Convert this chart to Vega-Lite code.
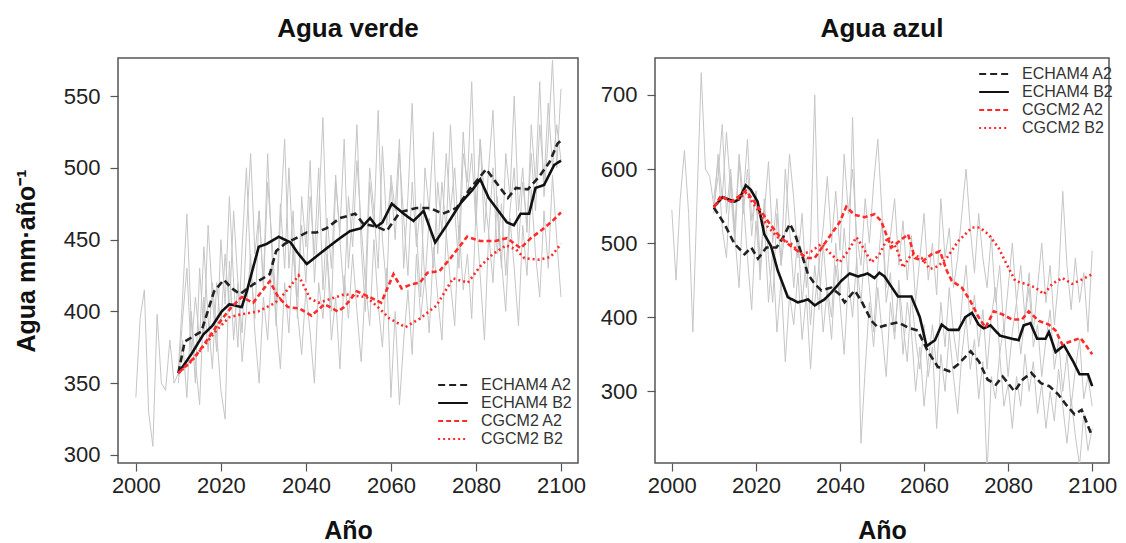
{
"$schema": "https://vega.github.io/schema/vega-lite/v6.json",
"padding": {"left": 13, "top": 15, "right": 5, "bottom": 0},
"config": {
  "font": "Liberation Sans",
  "view": {"stroke": "#555555", "strokeWidth": 1.5},
  "axis": {"grid": false, "domain": false, "tickColor": "#555555", "tickSize": 8, "tickWidth": 1.2, "labelFontSize": 22, "labelColor": "#222222", "titleFontSize": 25, "titleFontWeight": "bold", "titleColor": "#111111"},
  "axisX": {"labelPadding": 4, "titlePadding": 22},
  "axisY": {"labelPadding": 10, "titlePadding": 24},
  "title": {"fontSize": 26, "fontWeight": "bold", "color": "#111111", "offset": 16},
  "legend": {"labelFontSize": 16, "labelColor": "#333333", "symbolType": "M-1.65,0H1.65", "symbolSize": 324, "symbolStrokeWidth": 2, "rowPadding": 0, "labelOffset": 18, "title": null}
},
"datasets": {
  "vh": [{"x":2000,"v":340},{"x":2001,"v":395},{"x":2002,"v":415},{"x":2003,"v":330},{"x":2004,"v":306},{"x":2005,"v":398},{"x":2006,"v":350},{"x":2007,"v":345},{"x":2008,"v":380},{"x":2009,"v":350},{"x":2010,"v":357}],
  "ah": [{"x":2000,"v":545},{"x":2001,"v":450},{"x":2002,"v":560},{"x":2003,"v":625},{"x":2004,"v":540},{"x":2005,"v":380},{"x":2006,"v":560},{"x":2007,"v":730},{"x":2008,"v":600},{"x":2009,"v":590},{"x":2010,"v":550}],
  "vg": [
{"x":2010,"g1":360,"g2":355,"g3":350},{"x":2011,"g1":410,"g2":395,"g3":380},{"x":2012,"g1":468,"g2":430,"g3":340},{"x":2013,"g1":395,"g2":372,"g3":400},{"x":2014,"g1":350,"g2":410,"g3":365},{"x":2015,"g1":430,"g2":380,"g3":335},{"x":2016,"g1":385,"g2":445,"g3":410},{"x":2017,"g1":460,"g2":395,"g3":372},{"x":2018,"g1":410,"g2":360,"g3":420},{"x":2019,"g1":372,"g2":420,"g3":385},
{"x":2020,"g1":450,"g2":390,"g3":345},{"x":2021,"g1":405,"g2":440,"g3":325},{"x":2022,"g1":480,"g2":400,"g3":435},{"x":2023,"g1":420,"g2":470,"g3":380},{"x":2024,"g1":375,"g2":420,"g3":420},{"x":2025,"g1":445,"g2":385,"g3":365},{"x":2026,"g1":500,"g2":455,"g3":400},{"x":2027,"g1":430,"g2":510,"g3":440},{"x":2028,"g1":395,"g2":440,"g3":385},{"x":2029,"g1":470,"g2":470,"g3":350},
{"x":2030,"g1":420,"g2":415,"g3":410},{"x":2031,"g1":510,"g2":490,"g3":380},{"x":2032,"g1":440,"g2":450,"g3":435},{"x":2033,"g1":390,"g2":405,"g3":395},{"x":2034,"g1":465,"g2":475,"g3":360},{"x":2035,"g1":520,"g2":430,"g3":420},{"x":2036,"g1":430,"g2":500,"g3":385},{"x":2037,"g1":470,"g2":440,"g3":445},{"x":2038,"g1":395,"g2":410,"g3":400},{"x":2039,"g1":480,"g2":460,"g3":370},
{"x":2040,"g1":445,"g2":420,"g3":415},{"x":2041,"g1":505,"g2":480,"g3":385},{"x":2042,"g1":420,"g2":440,"g3":350},{"x":2043,"g1":470,"g2":500,"g3":420},{"x":2044,"g1":535,"g2":415,"g3":395},{"x":2045,"g1":440,"g2":465,"g3":440},{"x":2046,"g1":400,"g2":430,"g3":380},{"x":2047,"g1":490,"g2":495,"g3":410},{"x":2048,"g1":455,"g2":450,"g3":360},{"x":2049,"g1":520,"g2":410,"g3":425},
{"x":2050,"g1":430,"g2":480,"g3":395},{"x":2051,"g1":470,"g2":445,"g3":440},{"x":2052,"g1":530,"g2":505,"g3":400},{"x":2053,"g1":445,"g2":460,"g3":365},{"x":2054,"g1":400,"g2":420,"g3":420},{"x":2055,"g1":490,"g2":500,"g3":390},{"x":2056,"g1":460,"g2":470,"g3":450},{"x":2057,"g1":540,"g2":430,"g3":405},{"x":2058,"g1":450,"g2":515,"g3":375},{"x":2059,"g1":415,"g2":460,"g3":430},
{"x":2060,"g1":495,"g2":490,"g3":340},{"x":2061,"g1":470,"g2":450,"g3":400},{"x":2062,"g1":520,"g2":510,"g3":335},{"x":2063,"g1":430,"g2":465,"g3":380},{"x":2064,"g1":480,"g2":425,"g3":415},{"x":2065,"g1":545,"g2":490,"g3":370},{"x":2066,"g1":455,"g2":445,"g3":440},{"x":2067,"g1":410,"g2":475,"g3":395},{"x":2068,"g1":500,"g2":420,"g3":425},{"x":2069,"g1":470,"g2":465,"g3":385},
{"x":2070,"g1":525,"g2":430,"g3":445},{"x":2071,"g1":440,"g2":490,"g3":410},{"x":2072,"g1":490,"g2":455,"g3":380},{"x":2073,"g1":455,"g2":510,"g3":455},{"x":2074,"g1":530,"g2":470,"g3":420},{"x":2075,"g1":470,"g2":500,"g3":390},{"x":2076,"g1":430,"g2":450,"g3":460},{"x":2077,"g1":510,"g2":525,"g3":415},{"x":2078,"g1":490,"g2":480,"g3":440},{"x":2079,"g1":560,"g2":510,"g3":395},
{"x":2080,"g1":470,"g2":460,"g3":470},{"x":2081,"g1":520,"g2":520,"g3":425},{"x":2082,"g1":455,"g2":480,"g3":380},{"x":2083,"g1":500,"g2":455,"g3":455},{"x":2084,"g1":540,"g2":500,"g3":420},{"x":2085,"g1":470,"g2":440,"g3":480},{"x":2086,"g1":430,"g2":475,"g3":435},{"x":2087,"g1":510,"g2":425,"g3":400},{"x":2088,"g1":480,"g2":470,"g3":465},{"x":2089,"g1":550,"g2":500,"g3":430},
{"x":2090,"g1":470,"g2":445,"g3":390},{"x":2091,"g1":500,"g2":490,"g3":460},{"x":2092,"g1":455,"g2":460,"g3":425},{"x":2093,"g1":530,"g2":510,"g3":485},{"x":2094,"g1":490,"g2":470,"g3":440},{"x":2095,"g1":560,"g2":530,"g3":410},{"x":2096,"g1":480,"g2":490,"g3":470},{"x":2097,"g1":520,"g2":545,"g3":430},{"x":2098,"g1":575,"g2":500,"g3":495},{"x":2099,"g1":500,"g2":530,"g3":450},{"x":2100,"g1":555,"g2":505,"g3":410}
  ],
  "ag": [
{"x":2010,"g1":560,"g2":550,"g3":540},{"x":2011,"g1":610,"g2":590,"g3":620},{"x":2012,"g1":520,"g2":660,"g3":560},{"x":2013,"g1":480,"g2":540,"g3":650},{"x":2014,"g1":590,"g2":600,"g3":570},{"x":2015,"g1":510,"g2":520,"g3":500},{"x":2016,"g1":440,"g2":620,"g3":610},{"x":2017,"g1":560,"g2":560,"g3":540},{"x":2018,"g1":480,"g2":640,"g3":600},{"x":2019,"g1":410,"g2":530,"g3":510},
{"x":2020,"g1":530,"g2":570,"g3":570},{"x":2021,"g1":460,"g2":480,"g3":450},{"x":2022,"g1":560,"g2":530,"g3":540},{"x":2023,"g1":480,"g2":420,"g3":610},{"x":2024,"g1":420,"g2":490,"g3":500},{"x":2025,"g1":540,"g2":380,"g3":560},{"x":2026,"g1":470,"g2":450,"g3":470},{"x":2027,"g1":600,"g2":340,"g3":520},{"x":2028,"g1":520,"g2":430,"g3":620},{"x":2029,"g1":440,"g2":390,"g3":560},
{"x":2030,"g1":510,"g2":460,"g3":480},{"x":2031,"g1":420,"g2":370,"g3":540},{"x":2032,"g1":480,"g2":430,"g3":440},{"x":2033,"g1":390,"g2":330,"g3":500},{"x":2034,"g1":470,"g2":420,"g3":700},{"x":2035,"g1":410,"g2":470,"g3":470},{"x":2036,"g1":500,"g2":380,"g3":520},{"x":2037,"g1":430,"g2":440,"g3":590},{"x":2038,"g1":370,"g2":400,"g3":500},{"x":2039,"g1":470,"g2":500,"g3":570},
{"x":2040,"g1":420,"g2":430,"g3":490},{"x":2041,"g1":350,"g2":520,"g3":620},{"x":2042,"g1":450,"g2":450,"g3":540},{"x":2043,"g1":400,"g2":670,"g3":600},{"x":2044,"g1":480,"g2":470,"g3":510},{"x":2045,"g1":230,"g2":420,"g3":470},{"x":2046,"g1":330,"g2":500,"g3":560},{"x":2047,"g1":420,"g2":440,"g3":500},{"x":2048,"g1":360,"g2":380,"g3":580},{"x":2049,"g1":440,"g2":470,"g3":640},
{"x":2050,"g1":380,"g2":530,"g3":540},{"x":2051,"g1":320,"g2":420,"g3":440},{"x":2052,"g1":420,"g2":460,"g3":510},{"x":2053,"g1":370,"g2":380,"g3":560},{"x":2054,"g1":450,"g2":440,"g3":470},{"x":2055,"g1":390,"g2":350,"g3":530},{"x":2056,"g1":340,"g2":420,"g3":450},{"x":2057,"g1":430,"g2":380,"g3":510},{"x":2058,"g1":370,"g2":300,"g3":420},{"x":2059,"g1":330,"g2":360,"g3":480},
{"x":2060,"g1":390,"g2":280,"g3":540},{"x":2061,"g1":320,"g2":340,"g3":450},{"x":2062,"g1":360,"g2":390,"g3":500},{"x":2063,"g1":250,"g2":330,"g3":430},{"x":2064,"g1":350,"g2":420,"g3":560},{"x":2065,"g1":300,"g2":360,"g3":480},{"x":2066,"g1":380,"g2":440,"g3":520},{"x":2067,"g1":320,"g2":380,"g3":440},{"x":2068,"g1":270,"g2":340,"g3":480},{"x":2069,"g1":350,"g2":420,"g3":540},
{"x":2070,"g1":400,"g2":470,"g3":600},{"x":2071,"g1":330,"g2":390,"g3":520},{"x":2072,"g1":370,"g2":430,"g3":460},{"x":2073,"g1":290,"g2":360,"g3":540},{"x":2074,"g1":340,"g2":410,"g3":480},{"x":2075,"g1":190,"g2":330,"g3":440},{"x":2076,"g1":320,"g2":400,"g3":510},{"x":2077,"g1":290,"g2":440,"g3":420},{"x":2078,"g1":350,"g2":350,"g3":470},{"x":2079,"g1":280,"g2":390,"g3":380},
{"x":2080,"g1":310,"g2":320,"g3":440},{"x":2081,"g1":250,"g2":380,"g3":500},{"x":2082,"g1":320,"g2":420,"g3":420},{"x":2083,"g1":280,"g2":350,"g3":470},{"x":2084,"g1":350,"g2":400,"g3":400},{"x":2085,"g1":300,"g2":440,"g3":460},{"x":2086,"g1":340,"g2":360,"g3":380},{"x":2087,"g1":270,"g2":390,"g3":440},{"x":2088,"g1":310,"g2":320,"g3":500},{"x":2089,"g1":250,"g2":370,"g3":420},
{"x":2090,"g1":300,"g2":410,"g3":470},{"x":2091,"g1":260,"g2":330,"g3":390},{"x":2092,"g1":330,"g2":370,"g3":450},{"x":2093,"g1":280,"g2":300,"g3":570},{"x":2094,"g1":230,"g2":350,"g3":470},{"x":2095,"g1":290,"g2":280,"g3":410},{"x":2096,"g1":240,"g2":330,"g3":480},{"x":2097,"g1":200,"g2":370,"g3":420},{"x":2098,"g1":270,"g2":290,"g3":460},{"x":2099,"g1":220,"g2":320,"g3":380},{"x":2100,"g1":250,"g2":280,"g3":490}
  ],
  "vm": [
{"s":"ECHAM4 A2","x":2010,"v":357},{"s":"ECHAM4 A2","x":2011.5,"v":379},{"s":"ECHAM4 A2","x":2015.4,"v":386},{"s":"ECHAM4 A2","x":2018.4,"v":414},{"s":"ECHAM4 A2","x":2020.7,"v":422},{"s":"ECHAM4 A2","x":2022.6,"v":416},{"s":"ECHAM4 A2","x":2024.5,"v":412},{"s":"ECHAM4 A2","x":2027.7,"v":419},{"s":"ECHAM4 A2","x":2031.5,"v":426},{"s":"ECHAM4 A2","x":2033,"v":442},{"s":"ECHAM4 A2","x":2035,"v":447},{"s":"ECHAM4 A2","x":2037,"v":450},{"s":"ECHAM4 A2","x":2040.2,"v":455},{"s":"ECHAM4 A2","x":2042.5,"v":455},{"s":"ECHAM4 A2","x":2044.9,"v":458},{"s":"ECHAM4 A2","x":2048,"v":465},{"s":"ECHAM4 A2","x":2051.6,"v":468},{"s":"ECHAM4 A2","x":2053.5,"v":461},{"s":"ECHAM4 A2","x":2056.6,"v":459},{"s":"ECHAM4 A2","x":2059,"v":456},{"s":"ECHAM4 A2","x":2062.1,"v":469},{"s":"ECHAM4 A2","x":2066,"v":472},{"s":"ECHAM4 A2","x":2069.2,"v":472},{"s":"ECHAM4 A2","x":2072.2,"v":468},{"s":"ECHAM4 A2","x":2075.4,"v":472},{"s":"ECHAM4 A2","x":2078.5,"v":485},{"s":"ECHAM4 A2","x":2082.4,"v":499},{"s":"ECHAM4 A2","x":2085.2,"v":488},{"s":"ECHAM4 A2","x":2087.5,"v":479},{"s":"ECHAM4 A2","x":2089.4,"v":486},{"s":"ECHAM4 A2","x":2092.2,"v":485},{"s":"ECHAM4 A2","x":2094.9,"v":494},{"s":"ECHAM4 A2","x":2097.3,"v":504},{"s":"ECHAM4 A2","x":2099.2,"v":517},{"s":"ECHAM4 A2","x":2100,"v":519},
{"s":"ECHAM4 B2","x":2010,"v":357},{"s":"ECHAM4 B2","x":2013,"v":370},{"s":"ECHAM4 B2","x":2015.9,"v":384},{"s":"ECHAM4 B2","x":2018,"v":390},{"s":"ECHAM4 B2","x":2020.2,"v":400},{"s":"ECHAM4 B2","x":2022,"v":405},{"s":"ECHAM4 B2","x":2024.9,"v":403},{"s":"ECHAM4 B2","x":2026.1,"v":414},{"s":"ECHAM4 B2","x":2028.9,"v":445},{"s":"ECHAM4 B2","x":2030.8,"v":447},{"s":"ECHAM4 B2","x":2033.6,"v":452},{"s":"ECHAM4 B2","x":2036.4,"v":448},{"s":"ECHAM4 B2","x":2038,"v":441},{"s":"ECHAM4 B2","x":2040.2,"v":433},{"s":"ECHAM4 B2","x":2044.9,"v":444},{"s":"ECHAM4 B2","x":2048,"v":451},{"s":"ECHAM4 B2","x":2050.4,"v":456},{"s":"ECHAM4 B2","x":2053,"v":458},{"s":"ECHAM4 B2","x":2055.1,"v":465},{"s":"ECHAM4 B2","x":2056.6,"v":459},{"s":"ECHAM4 B2","x":2058,"v":462},{"s":"ECHAM4 B2","x":2060.2,"v":475},{"s":"ECHAM4 B2","x":2063,"v":468},{"s":"ECHAM4 B2","x":2065.3,"v":463},{"s":"ECHAM4 B2","x":2067.7,"v":470},{"s":"ECHAM4 B2","x":2070.4,"v":448},{"s":"ECHAM4 B2","x":2073.1,"v":460},{"s":"ECHAM4 B2","x":2076.3,"v":475},{"s":"ECHAM4 B2","x":2079,"v":484},{"s":"ECHAM4 B2","x":2081,"v":492},{"s":"ECHAM4 B2","x":2083,"v":479},{"s":"ECHAM4 B2","x":2087.3,"v":462},{"s":"ECHAM4 B2","x":2088.9,"v":460},{"s":"ECHAM4 B2","x":2090.5,"v":468},{"s":"ECHAM4 B2","x":2092.5,"v":468},{"s":"ECHAM4 B2","x":2094,"v":486},{"s":"ECHAM4 B2","x":2096,"v":488},{"s":"ECHAM4 B2","x":2098.4,"v":502},{"s":"ECHAM4 B2","x":2100,"v":505},
{"s":"CGCM2 A2","x":2010,"v":357},{"s":"CGCM2 A2","x":2013.8,"v":368},{"s":"CGCM2 A2","x":2016.5,"v":379},{"s":"CGCM2 A2","x":2019.3,"v":391},{"s":"CGCM2 A2","x":2022.5,"v":403},{"s":"CGCM2 A2","x":2024.9,"v":410},{"s":"CGCM2 A2","x":2027.6,"v":406},{"s":"CGCM2 A2","x":2029.6,"v":414},{"s":"CGCM2 A2","x":2031.5,"v":421},{"s":"CGCM2 A2","x":2033.5,"v":410},{"s":"CGCM2 A2","x":2035.8,"v":403},{"s":"CGCM2 A2","x":2038.5,"v":402},{"s":"CGCM2 A2","x":2041.3,"v":397},{"s":"CGCM2 A2","x":2044.4,"v":405},{"s":"CGCM2 A2","x":2047.5,"v":400},{"s":"CGCM2 A2","x":2049,"v":403},{"s":"CGCM2 A2","x":2052,"v":414},{"s":"CGCM2 A2","x":2055,"v":410},{"s":"CGCM2 A2","x":2057.7,"v":406},{"s":"CGCM2 A2","x":2060.6,"v":426},{"s":"CGCM2 A2","x":2062.5,"v":416},{"s":"CGCM2 A2","x":2064.9,"v":419},{"s":"CGCM2 A2","x":2066.8,"v":420},{"s":"CGCM2 A2","x":2068.6,"v":427},{"s":"CGCM2 A2","x":2071.4,"v":428},{"s":"CGCM2 A2","x":2074,"v":437},{"s":"CGCM2 A2","x":2077.9,"v":452},{"s":"CGCM2 A2","x":2081,"v":449},{"s":"CGCM2 A2","x":2084.6,"v":449},{"s":"CGCM2 A2","x":2087.3,"v":451},{"s":"CGCM2 A2","x":2090.5,"v":444},{"s":"CGCM2 A2","x":2092.9,"v":451},{"s":"CGCM2 A2","x":2095.6,"v":457},{"s":"CGCM2 A2","x":2098,"v":463},{"s":"CGCM2 A2","x":2100,"v":469},
{"s":"CGCM2 B2","x":2010,"v":357},{"s":"CGCM2 B2","x":2013,"v":365},{"s":"CGCM2 B2","x":2016,"v":376},{"s":"CGCM2 B2","x":2019,"v":387},{"s":"CGCM2 B2","x":2022,"v":396},{"s":"CGCM2 B2","x":2024.9,"v":398},{"s":"CGCM2 B2","x":2028.8,"v":400},{"s":"CGCM2 B2","x":2032.8,"v":406},{"s":"CGCM2 B2","x":2035.1,"v":413},{"s":"CGCM2 B2","x":2038.3,"v":425},{"s":"CGCM2 B2","x":2041,"v":409},{"s":"CGCM2 B2","x":2043,"v":406},{"s":"CGCM2 B2","x":2046.1,"v":409},{"s":"CGCM2 B2","x":2049.2,"v":412},{"s":"CGCM2 B2","x":2051,"v":411},{"s":"CGCM2 B2","x":2054.3,"v":410},{"s":"CGCM2 B2","x":2057.3,"v":402},{"s":"CGCM2 B2","x":2059.7,"v":395},{"s":"CGCM2 B2","x":2063.4,"v":389},{"s":"CGCM2 B2","x":2066.8,"v":395},{"s":"CGCM2 B2","x":2070.7,"v":404},{"s":"CGCM2 B2","x":2074.6,"v":423},{"s":"CGCM2 B2","x":2078.1,"v":420},{"s":"CGCM2 B2","x":2080.9,"v":431},{"s":"CGCM2 B2","x":2084,"v":440},{"s":"CGCM2 B2","x":2087.1,"v":446},{"s":"CGCM2 B2","x":2089.5,"v":443},{"s":"CGCM2 B2","x":2091.4,"v":437},{"s":"CGCM2 B2","x":2094.9,"v":436},{"s":"CGCM2 B2","x":2097.6,"v":438},{"s":"CGCM2 B2","x":2100,"v":447}
  ],
  "am": [
{"s":"ECHAM4 A2","x":2010,"v":548},{"s":"ECHAM4 A2","x":2012.5,"v":526},{"s":"ECHAM4 A2","x":2014.9,"v":499},{"s":"ECHAM4 A2","x":2017.3,"v":485},{"s":"ECHAM4 A2","x":2018.9,"v":494},{"s":"ECHAM4 A2","x":2020.5,"v":479},{"s":"ECHAM4 A2","x":2022.5,"v":494},{"s":"ECHAM4 A2","x":2024.9,"v":494},{"s":"ECHAM4 A2","x":2026.5,"v":508},{"s":"ECHAM4 A2","x":2028.1,"v":526},{"s":"ECHAM4 A2","x":2029.3,"v":512},{"s":"ECHAM4 A2","x":2030.9,"v":485},{"s":"ECHAM4 A2","x":2032.4,"v":458},{"s":"ECHAM4 A2","x":2034,"v":445},{"s":"ECHAM4 A2","x":2035.6,"v":436},{"s":"ECHAM4 A2","x":2037.9,"v":440},{"s":"ECHAM4 A2","x":2039.9,"v":431},{"s":"ECHAM4 A2","x":2041.1,"v":420},{"s":"ECHAM4 A2","x":2043.5,"v":436},{"s":"ECHAM4 A2","x":2045.1,"v":422},{"s":"ECHAM4 A2","x":2047.5,"v":395},{"s":"ECHAM4 A2","x":2049.1,"v":386},{"s":"ECHAM4 A2","x":2051.4,"v":390},{"s":"ECHAM4 A2","x":2053.8,"v":393},{"s":"ECHAM4 A2","x":2056.2,"v":386},{"s":"ECHAM4 A2","x":2058.5,"v":382},{"s":"ECHAM4 A2","x":2060.9,"v":354},{"s":"ECHAM4 A2","x":2063.3,"v":333},{"s":"ECHAM4 A2","x":2066,"v":327},{"s":"ECHAM4 A2","x":2068,"v":336},{"s":"ECHAM4 A2","x":2071.1,"v":354},{"s":"ECHAM4 A2","x":2073.1,"v":340},{"s":"ECHAM4 A2","x":2075.1,"v":316},{"s":"ECHAM4 A2","x":2077.1,"v":309},{"s":"ECHAM4 A2","x":2078.7,"v":320},{"s":"ECHAM4 A2","x":2081.5,"v":300},{"s":"ECHAM4 A2","x":2083.5,"v":316},{"s":"ECHAM4 A2","x":2085.5,"v":325},{"s":"ECHAM4 A2","x":2087.8,"v":311},{"s":"ECHAM4 A2","x":2089.8,"v":307},{"s":"ECHAM4 A2","x":2091.9,"v":296},{"s":"ECHAM4 A2","x":2093.8,"v":282},{"s":"ECHAM4 A2","x":2095.8,"v":269},{"s":"ECHAM4 A2","x":2097.5,"v":275},{"s":"ECHAM4 A2","x":2100,"v":239},
{"s":"ECHAM4 B2","x":2010,"v":549},{"s":"ECHAM4 B2","x":2012.1,"v":562},{"s":"ECHAM4 B2","x":2014.9,"v":556},{"s":"ECHAM4 B2","x":2016,"v":559},{"s":"ECHAM4 B2","x":2017.6,"v":578},{"s":"ECHAM4 B2","x":2018.8,"v":572},{"s":"ECHAM4 B2","x":2020.4,"v":556},{"s":"ECHAM4 B2","x":2022,"v":512},{"s":"ECHAM4 B2","x":2023.6,"v":496},{"s":"ECHAM4 B2","x":2025.2,"v":463},{"s":"ECHAM4 B2","x":2027.6,"v":427},{"s":"ECHAM4 B2","x":2030,"v":420},{"s":"ECHAM4 B2","x":2032.4,"v":424},{"s":"ECHAM4 B2","x":2034,"v":416},{"s":"ECHAM4 B2","x":2036.3,"v":424},{"s":"ECHAM4 B2","x":2037.9,"v":433},{"s":"ECHAM4 B2","x":2040.3,"v":449},{"s":"ECHAM4 B2","x":2042.3,"v":459},{"s":"ECHAM4 B2","x":2044.3,"v":455},{"s":"ECHAM4 B2","x":2046.6,"v":459},{"s":"ECHAM4 B2","x":2048.2,"v":453},{"s":"ECHAM4 B2","x":2049.4,"v":460},{"s":"ECHAM4 B2","x":2050.6,"v":455},{"s":"ECHAM4 B2","x":2053.8,"v":428},{"s":"ECHAM4 B2","x":2057,"v":428},{"s":"ECHAM4 B2","x":2059,"v":400},{"s":"ECHAM4 B2","x":2060.6,"v":361},{"s":"ECHAM4 B2","x":2062.6,"v":369},{"s":"ECHAM4 B2","x":2064.2,"v":390},{"s":"ECHAM4 B2","x":2065.8,"v":383},{"s":"ECHAM4 B2","x":2068.2,"v":383},{"s":"ECHAM4 B2","x":2069.8,"v":400},{"s":"ECHAM4 B2","x":2071.4,"v":406},{"s":"ECHAM4 B2","x":2073,"v":390},{"s":"ECHAM4 B2","x":2074.2,"v":385},{"s":"ECHAM4 B2","x":2075.8,"v":389},{"s":"ECHAM4 B2","x":2078.1,"v":375},{"s":"ECHAM4 B2","x":2080.9,"v":371},{"s":"ECHAM4 B2","x":2082.5,"v":369},{"s":"ECHAM4 B2","x":2083.7,"v":389},{"s":"ECHAM4 B2","x":2085.3,"v":392},{"s":"ECHAM4 B2","x":2086.9,"v":371},{"s":"ECHAM4 B2","x":2088.9,"v":371},{"s":"ECHAM4 B2","x":2089.7,"v":380},{"s":"ECHAM4 B2","x":2091.3,"v":353},{"s":"ECHAM4 B2","x":2093.3,"v":362},{"s":"ECHAM4 B2","x":2095.5,"v":340},{"s":"ECHAM4 B2","x":2097,"v":323},{"s":"ECHAM4 B2","x":2099,"v":323},{"s":"ECHAM4 B2","x":2100,"v":307},
{"s":"CGCM2 A2","x":2010,"v":548},{"s":"CGCM2 A2","x":2011.7,"v":564},{"s":"CGCM2 A2","x":2014.1,"v":556},{"s":"CGCM2 A2","x":2015.7,"v":562},{"s":"CGCM2 A2","x":2017.6,"v":571},{"s":"CGCM2 A2","x":2018.8,"v":562},{"s":"CGCM2 A2","x":2020.4,"v":550},{"s":"CGCM2 A2","x":2022.8,"v":530},{"s":"CGCM2 A2","x":2025.2,"v":512},{"s":"CGCM2 A2","x":2027.6,"v":499},{"s":"CGCM2 A2","x":2030,"v":489},{"s":"CGCM2 A2","x":2032,"v":480},{"s":"CGCM2 A2","x":2034,"v":480},{"s":"CGCM2 A2","x":2036.3,"v":499},{"s":"CGCM2 A2","x":2037.9,"v":512},{"s":"CGCM2 A2","x":2039.9,"v":528},{"s":"CGCM2 A2","x":2041.5,"v":549},{"s":"CGCM2 A2","x":2043.5,"v":538},{"s":"CGCM2 A2","x":2045.9,"v":535},{"s":"CGCM2 A2","x":2048.2,"v":539},{"s":"CGCM2 A2","x":2049.8,"v":530},{"s":"CGCM2 A2","x":2052.2,"v":494},{"s":"CGCM2 A2","x":2054.2,"v":503},{"s":"CGCM2 A2","x":2056.2,"v":512},{"s":"CGCM2 A2","x":2057.8,"v":480},{"s":"CGCM2 A2","x":2059.8,"v":476},{"s":"CGCM2 A2","x":2061.8,"v":485},{"s":"CGCM2 A2","x":2063.8,"v":489},{"s":"CGCM2 A2","x":2065.4,"v":463},{"s":"CGCM2 A2","x":2066.6,"v":449},{"s":"CGCM2 A2","x":2069,"v":440},{"s":"CGCM2 A2","x":2071,"v":422},{"s":"CGCM2 A2","x":2073,"v":400},{"s":"CGCM2 A2","x":2074.6,"v":386},{"s":"CGCM2 A2","x":2076.6,"v":408},{"s":"CGCM2 A2","x":2078.6,"v":404},{"s":"CGCM2 A2","x":2080.9,"v":397},{"s":"CGCM2 A2","x":2083.3,"v":397},{"s":"CGCM2 A2","x":2084.9,"v":408},{"s":"CGCM2 A2","x":2087.3,"v":395},{"s":"CGCM2 A2","x":2089.7,"v":390},{"s":"CGCM2 A2","x":2091.3,"v":382},{"s":"CGCM2 A2","x":2092.9,"v":363},{"s":"CGCM2 A2","x":2095.2,"v":368},{"s":"CGCM2 A2","x":2097.2,"v":372},{"s":"CGCM2 A2","x":2098.4,"v":363},{"s":"CGCM2 A2","x":2100,"v":350},
{"s":"CGCM2 B2","x":2010,"v":548},{"s":"CGCM2 B2","x":2012,"v":562},{"s":"CGCM2 B2","x":2014,"v":556},{"s":"CGCM2 B2","x":2016,"v":560},{"s":"CGCM2 B2","x":2017.6,"v":568},{"s":"CGCM2 B2","x":2020.4,"v":545},{"s":"CGCM2 B2","x":2022.8,"v":522},{"s":"CGCM2 B2","x":2025.2,"v":508},{"s":"CGCM2 B2","x":2028.4,"v":499},{"s":"CGCM2 B2","x":2030.8,"v":485},{"s":"CGCM2 B2","x":2033.2,"v":489},{"s":"CGCM2 B2","x":2035.6,"v":499},{"s":"CGCM2 B2","x":2037.9,"v":485},{"s":"CGCM2 B2","x":2039.9,"v":474},{"s":"CGCM2 B2","x":2041.9,"v":489},{"s":"CGCM2 B2","x":2043.9,"v":508},{"s":"CGCM2 B2","x":2045.5,"v":494},{"s":"CGCM2 B2","x":2047.5,"v":474},{"s":"CGCM2 B2","x":2049.4,"v":485},{"s":"CGCM2 B2","x":2051.4,"v":508},{"s":"CGCM2 B2","x":2053.4,"v":494},{"s":"CGCM2 B2","x":2055,"v":467},{"s":"CGCM2 B2","x":2057,"v":485},{"s":"CGCM2 B2","x":2059.4,"v":480},{"s":"CGCM2 B2","x":2061.4,"v":465},{"s":"CGCM2 B2","x":2063.4,"v":469},{"s":"CGCM2 B2","x":2065.4,"v":480},{"s":"CGCM2 B2","x":2068.2,"v":503},{"s":"CGCM2 B2","x":2071.4,"v":521},{"s":"CGCM2 B2","x":2073.3,"v":521},{"s":"CGCM2 B2","x":2075.3,"v":512},{"s":"CGCM2 B2","x":2077.7,"v":494},{"s":"CGCM2 B2","x":2079.7,"v":471},{"s":"CGCM2 B2","x":2081.7,"v":449},{"s":"CGCM2 B2","x":2084.1,"v":445},{"s":"CGCM2 B2","x":2086.5,"v":440},{"s":"CGCM2 B2","x":2088.5,"v":431},{"s":"CGCM2 B2","x":2090.5,"v":445},{"s":"CGCM2 B2","x":2092.9,"v":453},{"s":"CGCM2 B2","x":2095.2,"v":445},{"s":"CGCM2 B2","x":2097.6,"v":451},{"s":"CGCM2 B2","x":2100,"v":458}
  ]
},
"spacing": 12,
"resolve": {"scale": {"y": "independent", "color": "independent", "strokeDash": "independent"}, "legend": {"color": "independent", "strokeDash": "independent"}},
"hconcat": [
 {
  "title": {"text": "Agua verde"},
  "width": 460, "height": 405,
  "layer": [
   {"data": {"name": "vh"}, "mark": {"type": "line", "color": "#c6c6c6", "strokeWidth": 1, "clip": true},
    "encoding": {"x": {"field": "x", "type": "quantitative", "scale": {"domain": [1995.8, 2104], "nice": false, "zero": false}, "axis": {"values": [2000, 2020, 2040, 2060, 2080, 2100], "format": "d", "title": "Año"}},
                 "y": {"field": "v", "type": "quantitative", "scale": {"domain": [294.4, 576.5], "nice": false, "zero": false}, "axis": {"values": [300, 350, 400, 450, 500, 550], "title": "Agua mm·año⁻¹"}}}},
   {"data": {"name": "vg"}, "transform": [{"fold": ["g1", "g2", "g3"], "as": ["g", "v"]}],
    "mark": {"type": "line", "color": "#c6c6c6", "strokeWidth": 1, "clip": true},
    "encoding": {"x": {"field": "x", "type": "quantitative"}, "y": {"field": "v", "type": "quantitative"}, "detail": {"field": "g"}}},
   {"data": {"name": "vm"}, "mark": {"type": "line", "strokeWidth": 2.6, "clip": true},
    "encoding": {"x": {"field": "x", "type": "quantitative"}, "y": {"field": "v", "type": "quantitative"},
      "color": {"field": "s", "type": "nominal", "scale": {"domain": ["ECHAM4 A2", "ECHAM4 B2", "CGCM2 A2", "CGCM2 B2"], "range": ["#222222", "#111111", "#ff2b2b", "#ff2b2b"]}, "legend": {"orient": "none", "legendX": 325, "legendY": 317}},
      "strokeDash": {"field": "s", "type": "nominal", "scale": {"domain": ["ECHAM4 A2", "ECHAM4 B2", "CGCM2 A2", "CGCM2 B2"], "range": [[7, 4], [1, 0], [5, 3], [2, 3]]}, "legend": {"orient": "none", "legendX": 325, "legendY": 317}}}}
  ]
 },
 {
  "title": {"text": "Agua azul"},
  "width": 454, "height": 405,
  "layer": [
   {"data": {"name": "ah"}, "mark": {"type": "line", "color": "#c6c6c6", "strokeWidth": 1, "clip": true},
    "encoding": {"x": {"field": "x", "type": "quantitative", "scale": {"domain": [1996, 2104], "nice": false, "zero": false}, "axis": {"values": [2000, 2020, 2040, 2060, 2080, 2100], "format": "d", "title": "Año"}},
                 "y": {"field": "v", "type": "quantitative", "scale": {"domain": [203.3, 749.8], "nice": false, "zero": false}, "axis": {"values": [300, 400, 500, 600, 700], "title": null}}}},
   {"data": {"name": "ag"}, "transform": [{"fold": ["g1", "g2", "g3"], "as": ["g", "v"]}],
    "mark": {"type": "line", "color": "#c6c6c6", "strokeWidth": 1, "clip": true},
    "encoding": {"x": {"field": "x", "type": "quantitative"}, "y": {"field": "v", "type": "quantitative"}, "detail": {"field": "g"}}},
   {"data": {"name": "am"}, "mark": {"type": "line", "strokeWidth": 2.6, "clip": true},
    "encoding": {"x": {"field": "x", "type": "quantitative"}, "y": {"field": "v", "type": "quantitative"},
      "color": {"field": "s", "type": "nominal", "scale": {"domain": ["ECHAM4 A2", "ECHAM4 B2", "CGCM2 A2", "CGCM2 B2"], "range": ["#222222", "#111111", "#ff2b2b", "#ff2b2b"]}, "legend": {"orient": "none", "legendX": 329, "legendY": 6}},
      "strokeDash": {"field": "s", "type": "nominal", "scale": {"domain": ["ECHAM4 A2", "ECHAM4 B2", "CGCM2 A2", "CGCM2 B2"], "range": [[7, 4], [1, 0], [5, 3], [2, 3]]}, "legend": {"orient": "none", "legendX": 329, "legendY": 6}}}}
  ]
 }
]
}
